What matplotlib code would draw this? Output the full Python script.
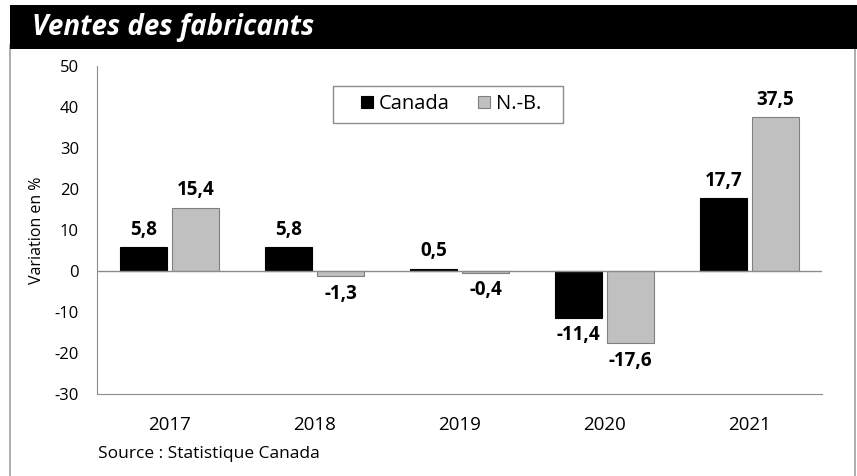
import matplotlib.pyplot as plt
import matplotlib.patches as patches
import numpy as np

# Données
annees = ['2017', '2018', '2019', '2020', '2021']
canada = [5.8, 5.8, 0.5, -11.4, 17.7]
nb = [15.4, -1.3, -0.4, -17.6, 37.5]

plt.rcParams['font.family'] = ['Open Sans', 'DejaVu Sans']
plt.rcParams['axes.unicode_minus'] = False

fig = plt.figure(figsize=(8.57, 4.76), dpi=100)

# cadre et bandeau du titre (en pixels)
W, H = 857, 476
fig.patches.append(patches.Rectangle((10 / W, -0.01), 845 / W, 1 - 45 / H + 0.01,
                                     transform=fig.transFigure, facecolor='white',
                                     edgecolor='#a0a0a0', linewidth=1.2, zorder=-10))
fig.patches.append(patches.Rectangle((10 / W, 1 - 49 / H), (W - 10) / W, 44 / H,
                                     transform=fig.transFigure, facecolor='black',
                                     edgecolor='none', zorder=-5))
fig.text(32 / W, 1 - 28 / H, 'Ventes des fabricants', color='white', fontsize=20,
         fontweight='bold', fontstyle='italic', va='center', ha='left')

ax = fig.add_axes([97 / W, 1 - 394 / H, 725 / W, 328 / H])
x = np.arange(len(annees))
w = 0.32
b1 = ax.bar(x - 0.18, canada, w, color='black', edgecolor='black', linewidth=0.8, label='Canada')
b2 = ax.bar(x + 0.18, nb, w, color='#c0c0c0', edgecolor='#808080', linewidth=0.8, label='N.-B.')

for bars, vals in ((b1, canada), (b2, nb)):
    for r, v in zip(bars, vals):
        txt = f'{v:.1f}'.replace('.', ',')
        if v >= 0:
            ax.annotate(txt, (r.get_x() + r.get_width() / 2, v), xytext=(0, 5.5),
                        textcoords='offset points', ha='center', va='bottom',
                        fontsize=13.5, fontweight='bold')
        else:
            ax.annotate(txt, (r.get_x() + r.get_width() / 2, v), xytext=(0, -5.5),
                        textcoords='offset points', ha='center', va='top',
                        fontsize=13.5, fontweight='bold')

ax.axhline(0, color='#8c8c8c', linewidth=1)
ax.set_xlim(-0.5, len(annees) - 0.5)
ax.set_ylim(-30, 50)
ax.set_yticks(range(-30, 51, 10))
ax.set_xticks(x)
ax.set_xticklabels(annees)
ax.tick_params(length=0)
ax.tick_params(axis='x', labelsize=13.5, pad=16)
ax.tick_params(axis='y', labelsize=12, pad=13)
for s in ['top', 'right']:
    ax.spines[s].set_visible(False)
for s in ['left', 'bottom']:
    ax.spines[s].set_color('#8c8c8c')
ax.set_ylabel('Variation en %', fontsize=11.5, labelpad=7)

# légende (sans cadre, cadre dessiné à part)
leg = ax.legend(loc='center', bbox_to_anchor=(451 / W, 1 - 104 / H),
                bbox_transform=fig.transFigure, ncol=2, fontsize=14.5,
                frameon=False, handlelength=0.6, handleheight=0.6,
                handletextpad=0.3, columnspacing=1.4, borderpad=0)
fig.patches.append(patches.Rectangle((333 / W, 1 - 123 / H), 230 / W, 37 / H,
                                     transform=fig.transFigure, facecolor='none',
                                     edgecolor='#8c8c8c', linewidth=1, zorder=5))

fig.text(98 / W, 1 - 454 / H, 'Source : Statistique Canada', fontsize=12.5,
         va='center', ha='left')

fig.savefig('out.png', dpi=100)
